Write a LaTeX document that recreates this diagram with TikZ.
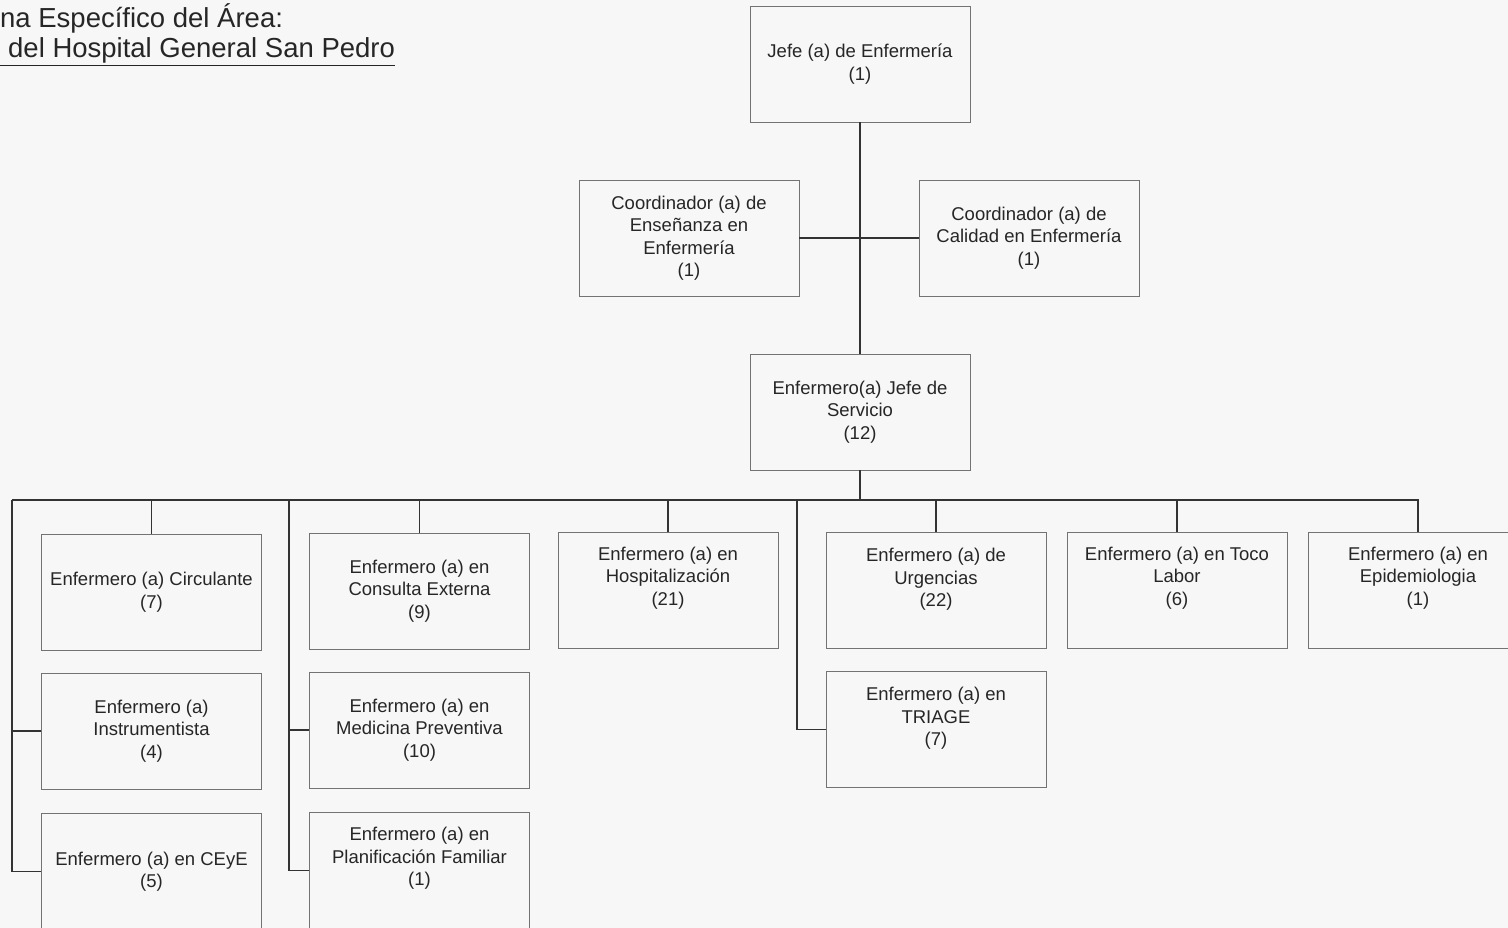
\documentclass[tikz,border=0pt]{standalone}
\usepackage{fontspec}
\setmainfont{Liberation Sans}
\usetikzlibrary{positioning}

\begin{document}
\begin{tikzpicture}[x=1pt,y=-1pt,
      box/.style={draw=black!55,line width=0.7pt,minimum width=220pt,minimum height=116pt,inner sep=0pt},
      btext/.style={align=center,font=\fontsize{18.5}{22.5}\selectfont,text=black!85},
      ttext/.style={anchor=base west,inner sep=0pt,font=\fontsize{27.5}{31}\selectfont,text=black!85},
      link/.style={line width=1.5pt,black!80},
    ]
    \useasboundingbox (0,0) rectangle (1508,928);
    \clip (0,0) rectangle (1508,928);
    \fill[black!3] (0,0) rectangle (1508,928);

    \node[ttext] (tit1) at (0,28) {na Específico del Área:};
    \node[ttext] (tit2) at (0,58) {\underline{\hspace*{8pt}del Hospital General San Pedro}};

    \node[box,btext] (jefe) at (860,64) {Jefe (a) de Enfermería\\(1)};
    \node[box,btext] (ens) at (689,238) {Coordinador (a) de\\Enseñanza en\\Enfermería\\(1)};
    \node[box,btext] (cal) at (1029,238) {Coordinador (a) de\\Calidad en Enfermería\\(1)};
    \node[box,btext] (serv) at (860,412) {Enfermero(a) Jefe de\\Servicio\\(12)};

    \node[box,btext] (circ) at (151.5,592) {Enfermero (a) Circulante\\(7)};
    \node[box,btext] (cons) at (419.5,591) {Enfermero (a) en\\Consulta Externa\\(9)};
    \node[box,label={[btext,yshift=12pt]center:{Enfermero (a) en\\Hospitalización\\(21)}}] (hosp) at (668,590) {};
    \node[box,label={[btext,yshift=11pt]center:{Enfermero (a) de\\Urgencias\\(22)}}] (urg) at (936,590.5) {};
    \node[box,label={[btext,yshift=12pt]center:{Enfermero (a) en Toco\\Labor\\(6)}}] (toco) at (1177,590) {};
    \node[box,label={[btext,yshift=12pt]center:{Enfermero (a) en\\Epidemiologia\\(1)}}] (epi) at (1418,590) {};

    \node[box,btext] (instr) at (151.5,731) {Enfermero (a)\\Instrumentista\\(4)};
    \node[box,btext] (medp) at (419.5,730) {Enfermero (a) en\\Medicina Preventiva\\(10)};
    \node[box,label={[btext,yshift=11pt]center:{Enfermero (a) en\\TRIAGE\\(7)}}] (triage) at (936,729.5) {};

    \node[box,btext] (ceye) at (151.5,871.5) {Enfermero (a) en CEyE\\(5)};
    \node[box,label={[btext,yshift=12pt]center:{Enfermero (a) en\\Planificación Familiar\\(1)}}] (plan) at (419.5,870.5) {};

    \coordinate (busL) at (12,500);
    \coordinate (busA) at (289,500);
    \coordinate (busB) at (797,500);
    \coordinate (busR) at (1419,500);

    \draw[link] (jefe.south) -- (serv.north);
    \draw[link] (ens.east) -- (cal.west);
    \draw[link] (serv.south) -- (serv.south |- busL);
    \draw[link] (busL) -- (busR);

    \foreach \n in {circ,cons,hosp,urg,toco,epi}
        \draw[link] (\n.north) -- (\n.north |- busL);

    \draw[link] (busL) |- (ceye.west);
    \draw[link] (instr.west) -- (instr.west -| busL);
    \draw[link] (busA) |- (plan.west);
    \draw[link] (medp.west) -- (medp.west -| busA);
    \draw[link] (busB) |- (triage.west);
\end{tikzpicture}
\end{document}
